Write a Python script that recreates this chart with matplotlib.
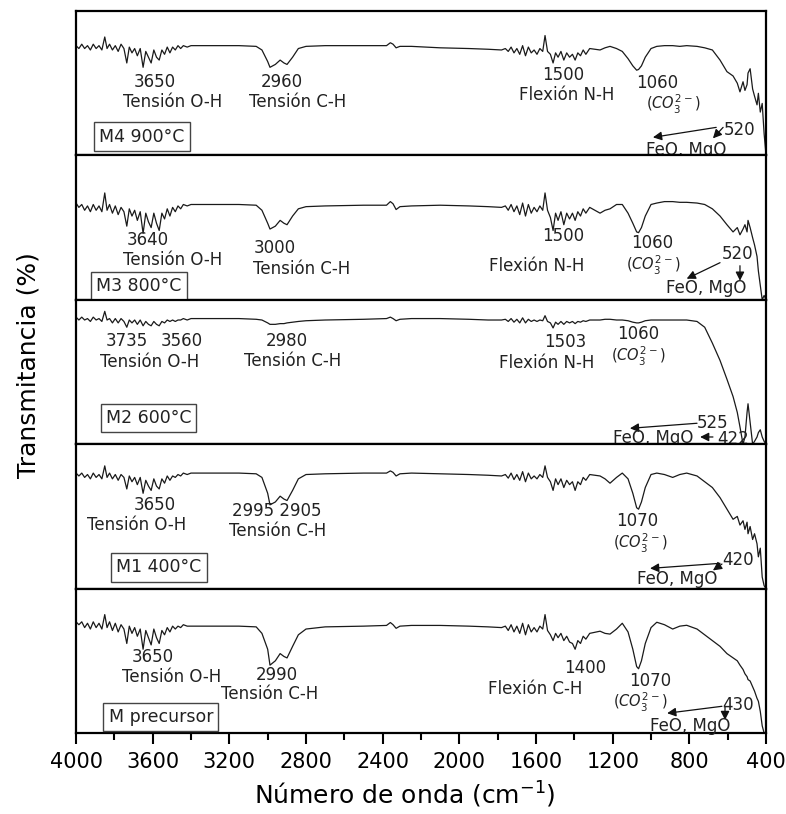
import matplotlib
matplotlib.use("Agg")
import matplotlib.pyplot as plt
from matplotlib.ticker import MultipleLocator

plt.rcParams['font.family'] = ['DejaVu Sans']

# wavenumber grid shared by all spectra (cm-1)
wn = [4000, 3985, 3970, 3955, 3940, 3925, 3910, 3895, 3880, 3865,
      3850, 3838, 3825, 3810, 3795, 3780, 3765, 3750, 3735, 3722,
      3708, 3694, 3680, 3665, 3650, 3636, 3622, 3608, 3594, 3580,
      3566, 3552, 3538, 3524, 3510, 3496, 3482, 3468, 3454, 3440,
      3420, 3400,
      3300, 3150, 3060, 3030, 3000, 2988, 2960, 2935, 2915, 2899,
      2870, 2840, 2800, 2700, 2500, 2380, 2360, 2346, 2330, 2310, 2250,
      2100, 1950, 1850, 1780, 1760, 1745, 1730, 1715, 1700, 1685,
      1670, 1655, 1640, 1625, 1610, 1595, 1580, 1565, 1553, 1540,
      1525, 1511, 1498, 1485, 1470, 1455, 1440, 1425, 1410, 1396,
      1382, 1368, 1354, 1340, 1320,
      1266, 1240, 1214, 1180, 1150, 1120, 1095, 1075, 1065, 1050,
      1030, 1000, 970, 930, 887, 850, 814, 760, 720, 680,
      640, 604, 572, 550, 536, 520, 510, 499, 494, 483,
      470, 460, 447, 440, 430, 420, 410, 400]

t_m4 = [76, 74, 77, 74, 76, 73, 77, 74, 76, 73,
        82, 74, 77, 73, 76, 72, 77, 74, 64, 75,
        71, 74, 69, 74, 61, 72, 68, 64, 73, 68,
        66, 73, 70, 75, 71, 75, 73, 76, 74, 76,
        75, 76,
        76, 76, 75.5, 73, 65, 61, 63, 66, 64, 63,
        68, 74, 75.5, 76, 76, 76, 78, 77, 74.5, 75.5, 75.5,
        74.5, 74, 73.5, 73, 74, 72, 75, 71, 74, 70,
        76, 69, 75, 71, 73, 70, 74, 72, 83, 72,
        70, 64, 71, 68, 72, 66, 71, 68, 70, 66,
        71, 69, 73, 70, 74,
        73, 74.5, 75.5, 74, 72, 67, 62, 59, 59.5, 62,
        68, 74, 75.5, 76, 76, 75.5, 76, 75.5, 74.5, 73,
        66, 58, 55, 50, 44, 51, 45, 49, 57, 60,
        46, 41, 35, 43, 30, 36, 15, 0]

t_m3 = [67, 64, 66, 62, 65, 61, 66, 62, 65, 61,
        74, 62, 66, 60, 65, 59, 64, 61, 51, 63,
        58, 62, 55, 61, 46, 60, 54, 50, 60, 53,
        48, 60, 56, 63, 58, 64, 61, 65, 63, 66,
        65, 66,
        66, 66, 65.5, 62, 53, 49, 51, 55, 53, 52,
        58, 63, 64.5, 65, 65.5, 65.5, 68, 66.5, 62.5, 64.5, 65,
        65.5, 65, 64.5, 64, 65, 62, 66, 61, 65, 59,
        67, 58, 66, 60, 64, 61, 65, 62, 74, 62,
        57, 48, 60, 55, 61, 52, 60, 56, 60, 55,
        61, 58, 63, 60, 64,
        60, 62, 63, 66, 66, 60, 53, 47, 46.5, 50,
        58, 66, 67, 68, 68, 67.5, 67.5, 67, 66, 63,
        58, 52, 47, 50, 45, 49, 52, 47, 55, 50,
        43, 38, 30, 20, 10, 0, 3, 0]

t_m2 = [88, 86, 88, 86, 87, 85, 88, 86, 87, 85,
        92, 86, 87, 84, 87, 84, 87, 85, 81, 86,
        84, 86, 83, 86, 82, 85, 83, 82, 85, 83,
        82, 85, 84, 86, 85, 86, 85, 86, 86, 87,
        86, 87,
        87, 87, 86.5, 86, 84, 83, 83, 83.5, 83.5, 84,
        84.5, 85, 85.5, 86, 86.5, 87, 88, 87, 85.5, 86.5, 87,
        87, 86.5, 86, 86, 86.5, 85, 87, 84.5, 86.5, 84,
        87.5, 84, 86.5, 85, 86, 85, 86, 85.5, 89, 85,
        84, 80.5, 84.5, 83, 85, 83, 85, 84, 85, 83.5,
        85, 84.5, 85.5, 85, 86,
        86, 86.5, 86.5, 86, 86, 85.5, 84.5, 84, 84, 84.5,
        85.5, 86, 86, 86, 86, 86, 86, 85, 81, 70,
        58, 45, 33, 22, 12, 0, 5, 22, 28, 15,
        0, 2, 5, 8, 10, 5, 2, 0]

t_m1 = [80, 78, 80, 77, 79, 76, 80, 77, 79, 76,
        85, 77, 80, 76, 79, 75, 79, 77, 69, 78,
        74, 77, 72, 77, 66, 75, 71, 68, 76, 71,
        69, 76, 73, 78, 75, 78, 77, 79, 78, 80,
        79, 80,
        80, 80, 79.5, 77, 66, 58, 60, 64, 62, 61,
        68, 76, 79, 79.5, 80, 80, 81.5, 80.5, 78, 79.5, 80,
        79.5, 79, 78.5, 78, 79, 76.5, 80, 75.5, 79, 75,
        81, 74, 80, 76, 78, 76, 79, 77, 85, 77,
        74, 68, 76, 72, 76, 70, 75, 72, 74, 68,
        74, 72, 77, 75, 79,
        78, 76, 73, 77, 80, 76, 66, 56, 55, 60,
        70, 79, 80, 79, 77, 79, 80, 78, 74, 70,
        63, 55, 48, 50, 44, 47, 41, 46, 38, 43,
        34, 38, 31, 22, 28, 8, 2, 0]

t_mp = [77, 75, 77, 73, 76, 72, 77, 73, 76, 72,
        82, 73, 77, 71, 76, 70, 75, 72, 62, 74,
        69, 73, 67, 72, 58, 71, 66, 61, 72, 66,
        62, 71, 68, 73, 70, 74, 72, 74, 73, 75,
        74, 74,
        74, 74, 73.5, 69, 58, 47, 50, 55, 53, 52,
        60, 68, 72, 73.5, 74, 74.5, 76.5, 75, 72.5, 74, 74.5,
        74.5, 74, 73.5, 73, 74, 71, 75, 70, 74, 69,
        76, 68, 75, 70, 73, 70, 74, 72, 82, 71,
        68, 64, 69, 66, 69, 64, 67, 63, 62, 58,
        64, 62, 67, 65, 69,
        70.5, 69, 68.5, 72, 76, 70, 58, 46, 44.5, 50,
        62, 73, 76.7, 75, 72, 74, 74.6, 72, 68, 64,
        60, 55, 52, 50, 47, 44, 41, 39, 37, 36,
        32, 29, 24, 22, 15, 5, 0, 0]

spectra = [t_m4, t_m3, t_m2, t_m1, t_mp]
sample_labels = ["M4 900°C", "M3 800°C", "M2 600°C", "M1 400°C", "M precursor"]
label_pos = [(3880, 13), (3895, 9.7), (3845, 18), (3790, 14.7), (3830, 11)]

co3 = r"$(CO_3^{2-})$"
notes = [
    [("3650", 3588, 51), ("Tensión O-H", 3494, 37), ("2960", 2925, 51),
     ("Tensión C-H", 2842, 37), ("1500", 1459, 55.5), ("Flexión N-H", 1440, 41.5),
     ("1060", 970, 50), (co3, 886, 35), ("520", 536, 17.5), ("FeO, MgO", 814, 3.5)],
    [("3640", 3624, 41.5), ("Tensión O-H", 3494, 27.5), ("3000", 2962, 36),
     ("Tensión C-H", 2821, 21.5), ("1500", 1459, 44), ("Flexión N-H", 1595, 23.6),
     ("1060", 996, 39), (co3, 990, 24), ("520", 546, 32), ("FeO, MgO", 710, 8)],
    [("3735", 3734, 71.5), ("3560", 3447, 71.5), ("Tensión O-H", 3614, 57),
     ("2980", 2899, 71.5), ("Tensión C-H", 2868, 57.5), ("1503", 1449, 71),
     ("Flexión N-H", 1543, 56), ("1060", 1069, 76), (co3, 1069, 61),
     ("525", 677, 15), ("FeO, MgO", 990, 4.5), ("422", 573, 3.5)],
    [("3650", 3588, 58), ("Tensión O-H", 3682, 44), ("2995 2905", 2951, 54),
     ("Tensión C-H", 2946, 40), ("1070", 1072, 46.5), (co3, 1057, 31.5),
     ("420", 546, 19.5), ("FeO, MgO", 865, 6.5)],
    [("3650", 3598, 52.5), ("Tensión O-H", 3499, 38.5), ("2990", 2951, 40.5),
     ("Tensión C-H", 2988, 27), ("1400", 1346, 45), ("Flexión C-H", 1606, 30.8),
     ("1070", 1005, 36), (co3, 1057, 21), ("430", 546, 19.5), ("FeO, MgO", 796, 5)],
]

# arrows: (wn_from, t_from, wn_to, t_to)
arrows = [
    [(660, 19.4, 990, 12.5), (624, 19.4, 677, 11.8)],
    [(640, 25.7, 814, 14.6), (536, 23.6, 536, 13.2)],
    [(760, 14.5, 1110, 11), (677, 5, 744, 5)],
    [(640, 17.5, 1005, 14), (630, 17, 677, 12.6)],
    [(630, 18.5, 916, 13.7), (614, 18.5, 614, 9)],
]

fig = plt.figure(figsize=(7.86, 8.14), dpi=100)
axes = fig.subplots(5, 1, sharex=True, gridspec_kw={"hspace": 0})
fig.subplots_adjust(left=0.0967, right=0.9746, bottom=0.0995, top=0.9865)

for i, ax in enumerate(axes):
    ax.plot(wn, spectra[i], color="#1a1a1a", lw=0.9)
    ax.set_ylim(0, 100)
    ax.set_yticks([])
    for s in ax.spines.values():
        s.set_linewidth(1.6)
    for txt, x, y in notes[i]:
        fs = 10.5 if txt.startswith("$") else 12
        ax.text(x, y, txt, ha="center", va="center", fontsize=fs,
                color="#222222", clip_on=False, zorder=5)
    for x0, y0, x1, y1 in arrows[i]:
        ax.annotate("", xy=(x1, y1), xytext=(x0, y0), annotation_clip=False,
                    arrowprops=dict(arrowstyle="-|>", color="#111111", lw=0.9,
                                    mutation_scale=13, shrinkA=0, shrinkB=0))
    lx, ly = label_pos[i]
    ax.text(lx, ly, sample_labels[i], ha="left", va="center", fontsize=12.5,
            color="#222222",
            bbox=dict(boxstyle="square,pad=0.3", fc="white", ec="#444444", lw=1))
    if i < 4:
        ax.tick_params(axis="x", which="both", bottom=False, labelbottom=False)

ax = axes[-1]
ax.set_xlim(4000, 400)
ax.xaxis.set_major_locator(MultipleLocator(400))
ax.xaxis.set_minor_locator(MultipleLocator(200))
ax.tick_params(axis="x", which="major", direction="out", length=8, width=1.5,
               labelsize=15, pad=6)
ax.tick_params(axis="x", which="minor", direction="out", length=5, width=1.5)

fig.text(0.515, 0.024, "Número de onda (cm$^{-1}$)", ha="center", va="center",
         fontsize=18)
fig.text(0.036, 0.552, "Transmitancia (%)", rotation=90, ha="center",
         va="center", fontsize=18)

fig.savefig("out.png", dpi=100)
